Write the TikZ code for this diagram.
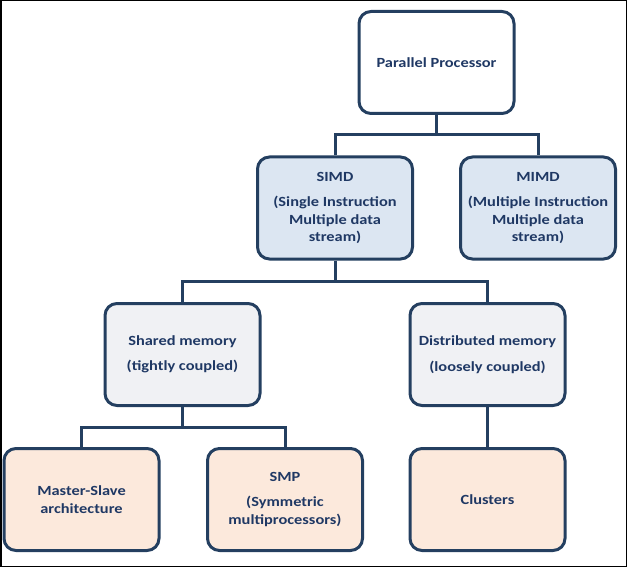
\documentclass[tikz,border=0pt]{standalone}
\usepackage{fontspec}
\setmainfont[FakeStretch=1.17]{Carlito}
\usepackage{tikz}
\usetikzlibrary{positioning}
\definecolor{navy}{RGB}{36,63,96}
\definecolor{navytext}{RGB}{31,56,100}
\definecolor{simdblue}{RGB}{220,230,242}
\definecolor{memgray}{RGB}{240,241,244}
\definecolor{peach}{RGB}{252,233,220}
\tikzset{
% Standard box of the tree
treebox/.style={rectangle, rounded corners=12pt, draw=navy, line width=3pt,
  align=center, minimum width=155pt, minimum height=102pt, inner sep=0,
  text=navytext, font=\fontsize{14}{17.5}\selectfont\bfseries},
link/.style={draw=navy, line width=3pt}
}

\begin{document}
\begin{tikzpicture}[x=1pt, y=-1pt]
  \useasboundingbox (0,0) rectangle (627,567);
  \draw[black, line width=1.5pt] (0.75,0.75) rectangle (626.25,566.25);

  \node[treebox, fill=white] (pp) at (436.5,62.5) {Parallel Processor};

  \node[treebox, fill=simdblue] (simd) at (335,208) {SIMD\\[8pt](Single Instruction\\Multiple data\\stream)};
  \node[treebox, fill=simdblue] (mimd) at (538,208) {MIMD\\[8pt](Multiple Instruction\\Multiple data\\stream)};

  \node[treebox, fill=memgray] (shared) at (182.5,354.5) {Shared memory\\[8pt](tightly coupled)};
  \node[treebox, fill=memgray] (dist) at (487.5,354.5) {Distributed memory\\[8pt](loosely coupled)};

  \node[treebox, fill=peach] (master) at (81.5,499.5) {Master-Slave\\architecture};
  \node[treebox, fill=peach] (smp) at (285,499.5) {SMP\\[8pt](Symmetric\\multiprocessors)};
  \node[treebox, fill=peach] (clusters) at (487.5,499.5) {Clusters};

  \coordinate (split1) at (436.5,135);
  \coordinate (split2) at (335,281);
  \coordinate (split3) at (182.5,427);

  \draw[link] (pp.south) -- (split1) -| (simd.north);
  \draw[link] (split1) -| (mimd.north);
  \draw[link] (simd.south) -- (split2) -| (shared.north);
  \draw[link] (split2) -| (dist.north);
  \draw[link] (shared.south) -- (split3) -| (master.north);
  \draw[link] (split3) -| (smp.north);
  \draw[link] (dist.south) -- (clusters.north);
\end{tikzpicture}
\end{document}
